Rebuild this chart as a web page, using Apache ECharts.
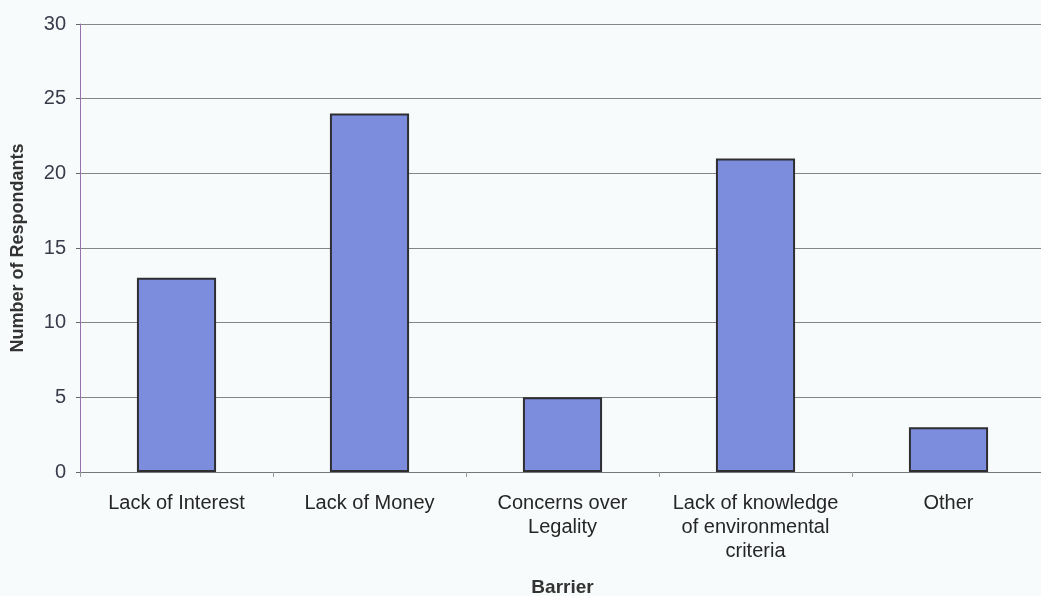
<!DOCTYPE html>
<html><head><meta charset="utf-8">
<script src="https://cdn.jsdelivr.net/npm/echarts@6/dist/echarts.min.js"></script>
<style>html,body{margin:0;padding:0;background:#f8fbfb}#c{width:1041px;height:596px}</style>
</head><body><div id="c"></div>
<script>
const categories = ['Lack of Interest', 'Lack of Money', 'Concerns over\nLegality', 'Lack of knowledge\nof environmental\ncriteria', 'Other'];
const values = [13, 24, 5, 21, 3];
const yTicks = [0, 5, 10, 15, 20, 25, 30];

const chart = echarts.init(document.getElementById('c'));
chart.setOption({
  backgroundColor: '#f8fbfb',
  animation: false,
  grid: { left: 80, right: -4, top: 24, bottom: 124, outerBoundsMode: 'none', containLabel: false },
  xAxis: {
    type: 'category',
    data: categories,
    name: 'Barrier',
    nameLocation: 'middle',
    nameGap: 106,
    nameTextStyle: { fontFamily: 'Liberation Sans', fontWeight: 'bold', fontSize: 19, color: '#333' },
    axisLine: { lineStyle: { color: '#777', width: 1 } },
    axisTick: { show: true, interval: 0, length: 5, lineStyle: { color: '#999' } },
    axisLabel: { interval: 0, hideOverlap: false, fontFamily: 'Liberation Sans', fontSize: 20, color: '#262626', margin: 19, lineHeight: 24 }
  },
  yAxis: {
    type: 'value',
    min: 0, max: 30, interval: 5,
    name: 'Number of Respondants',
    nameLocation: 'middle',
    nameGap: 53,
    nameTextStyle: { fontFamily: 'Liberation Sans', fontWeight: 'bold', fontSize: 18, color: '#333' },
    axisLine: { show: true, lineStyle: { color: '#9a6fb0', width: 1 } },
    axisTick: { show: true, length: 4, lineStyle: { color: '#666' } },
    axisLabel: { fontFamily: 'Liberation Sans', fontSize: 20, color: '#3a3a4a', margin: 14,
      formatter: v => yTicks.includes(v) ? String(v) : '' },
    splitLine: { lineStyle: { color: '#858585', width: 1 } }
  },
  series: [{
    type: 'bar',
    data: values,
    barWidth: '41%',
    itemStyle: { color: '#7b8ddc', borderColor: '#2e2e33', borderWidth: 2 }
  }]
});
</script></body></html>
